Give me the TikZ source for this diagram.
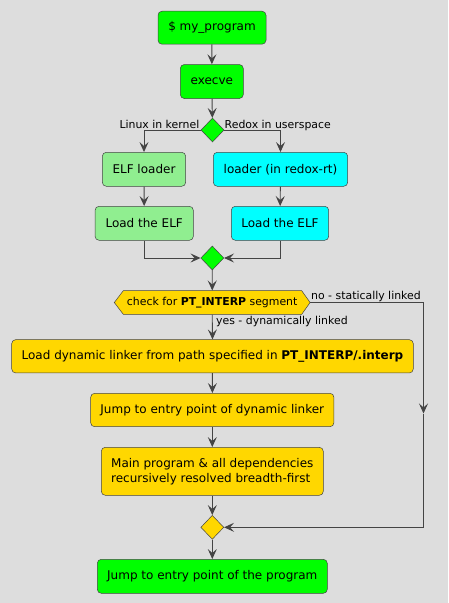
\documentclass[tikz,border=0pt]{standalone}
\usepackage{fontspec}
\setmainfont{DejaVu Sans}
\usetikzlibrary{arrows.meta,shapes.geometric}
\definecolor{bgGray}{HTML}{DDDDDD}
\definecolor{lineDark}{HTML}{444444}
\definecolor{limeGreen}{HTML}{00FF00}
\definecolor{lightGreen}{HTML}{90EE90}
\definecolor{cyanBox}{HTML}{00FFFF}
\definecolor{goldBox}{HTML}{FFD700}
\newcommand{\boxfont}{\fontsize{12}{14.8}\selectfont}
\newcommand{\lblfont}{\fontsize{10.9}{13}\selectfont}

\begin{document}
\begin{tikzpicture}[x=1pt,y=-1pt,
  box/.style={draw=lineDark,line width=0.5pt,rounded corners=4pt,minimum height=34pt,inner sep=0pt,font=\boxfont},
  gate/.style={diamond,draw=lineDark,line width=0.5pt,minimum width=23pt,minimum height=24pt,inner sep=0pt},
  hexbox/.style={minimum width=195.8pt,minimum height=23.6pt,inner sep=0pt,font=\lblfont},
  flow/.style={draw=lineDark,line width=0.9pt,-{Stealth[length=10pt,width=9pt,inset=4pt]}},
  lbl/.style={font=\lblfont,inner sep=0pt}]
\fill[bgGray] (0,0) rectangle (448,603);
\useasboundingbox (0,0) rectangle (448,603);
% ust kisim
\node[box,fill=limeGreen,minimum width=108pt,minimum height=33pt] (prog) at (212,27.7) {\$ my\_program};
\node[box,fill=limeGreen,minimum width=63pt] (execve) at (211.8,81.5) {execve};
\node[gate,fill=limeGreen] (d1) at (212.5,130) {};
% iki dal
\node[box,fill=lightGreen,minimum width=83.4pt] (elfload) at (144,169.3) {ELF loader};
\node[box,fill=cyanBox,minimum width=134.4pt] (rtload) at (280.5,169.3) {loader (in redox-rt)};
\node[box,fill=lightGreen,minimum width=98.3pt] (loadL) at (144.2,223.3) {Load the ELF};
\node[box,fill=cyanBox,minimum width=97.4pt] (loadR) at (280,223.3) {Load the ELF};
\node[gate,fill=limeGreen] (d2) at (212.3,258) {};
% PT_INTERP kontrolu (altigen)
\filldraw[fill=goldBox,draw=lineDark,line width=0.5pt] (114.3,302.5) -- (123.3,290.7) -- (301.7,290.7)
  -- (310.1,302.5) -- (301.7,314.3) -- (123.3,314.3) -- cycle;
\node[hexbox] (chk) at (212.2,302.5) {check for \textbf{PT\_INTERP} segment};
\node[box,fill=goldBox,minimum width=401.6pt,minimum height=33.3pt] (dynld) at (212.5,356.3)
  {Load dynamic linker from path specified in \textbf{PT\_INTERP/.interp}};
\node[box,fill=goldBox,minimum width=243.3pt,minimum height=33.4pt] (jumpdl) at (212.3,410) {Jump to entry point of dynamic linker};
\node[box,fill=goldBox,minimum width=222pt,minimum height=48pt,align=left] (mainprog) at (212.3,471.3)
  {Main program \& all dependencies\\recursively resolved breadth-first};
\node[gate,fill=goldBox] (d3) at (212.3,527.3) {};
\node[box,fill=limeGreen,minimum width=230pt] (jumpprog) at (212.3,576.3) {Jump to entry point of the program};
\coordinate (rtop) at (423.5,302.5);
\coordinate (rmid) at (423.5,413.5);
\coordinate (rbot) at (423.5,527.3);
% baglantilar
\draw[flow] (prog) -- (execve);
\draw[flow] (execve) -- (d1);
\draw[flow] (d1.west) -| (elfload.north);
\draw[flow] (d1.east) -| (rtload.north);
\node[lbl,anchor=base east] at (199.5,128.3) {Linux in kernel};
\node[lbl,anchor=base west] at (224.5,128.3) {Redox in userspace};
\draw[flow] (elfload) -- (loadL);
\draw[flow] (rtload) -- (loadR);
\draw[flow] (loadL.south) |- (d2.west);
\draw[flow] (loadR.south) |- (d2.east);
\draw[flow] (d2) -- (chk);
\draw[flow] (chk.south) -- (dynld.north);
\node[lbl,anchor=base west] at (216,324) {yes - dynamically linked};
\draw[flow] (chk.east) -- (rtop) -- (rmid);
\draw[flow] (rmid) -- (rbot) -- (d3.east);
\node[lbl,anchor=base west] at (311,299.5) {no - statically linked};
\draw[flow] (dynld) -- (jumpdl);
\draw[flow] (jumpdl) -- (mainprog);
\draw[flow] (mainprog) -- (d3);
\draw[flow] (d3) -- (jumpprog);
\end{tikzpicture}
\end{document}
